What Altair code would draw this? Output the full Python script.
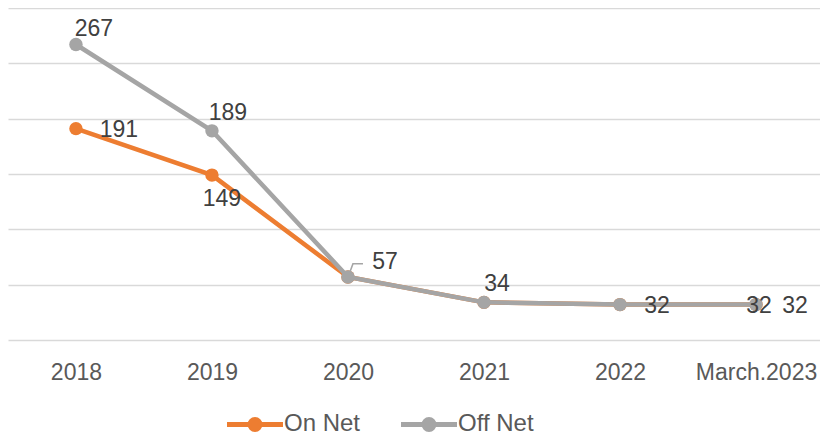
import altair as alt
import pandas as pd

years = ["2018", "2019", "2020", "2021", "2022", "March.2023"]
on_net = [191, 149, 57, 34, 32, 32]
off_net = [267, 189, 57, 34, 32, 32]
series = ["On Net", "Off Net"]
colors = ["#ED7D31", "#A5A5A5"]

rows = []
for s, vals in zip(series, [on_net, off_net]):
    for yr, v in zip(years, vals):
        rows.append({"year": yr, "series": s, "value": v})
df = pd.DataFrame(rows)

FONT = "Liberation Sans"

x_enc = alt.X(
    "year:N", sort=years,
    scale=alt.Scale(padding=0.485, align=0.515),
    axis=alt.Axis(title=None, labelAngle=0, ticks=False, tickSize=0, domain=False,
                  grid=False, labelFontSize=23, labelFont=FONT, labelColor="#595959",
                  labelPadding=21, labelBaseline="top"),
)
y_enc = alt.Y(
    "value:Q",
    scale=alt.Scale(domain=[0, 300], nice=False, zero=True),
    axis=alt.Axis(title=None, labels=False, ticks=False, tickSize=0, domain=False,
                  values=[0, 50, 100, 150, 200, 250, 300],
                  gridColor="#D9D9D9", gridWidth=1.5),
)

# legend symbol: line with a dot, drawn beyond the unit box (unit = 7.5px)
legend_path = ("M-3.73,0L3.73,0"
               "M-0.667,0A0.667,0.667,0,1,0,0.667,0A0.667,0.667,0,1,0,-0.667,0"
               "M-0.333,0A0.333,0.333,0,1,0,0.333,0A0.333,0.333,0,1,0,-0.333,0"
               "M-0.1,0A0.1,0.1,0,1,0,0.1,0A0.1,0.1,0,1,0,-0.1,0")

color_enc = alt.Color(
    "series:N",
    scale=alt.Scale(domain=series, range=colors),
    legend=alt.Legend(title=None, orient="none", direction="horizontal",
                      legendX=235, legendY=404,
                      symbolType=legend_path, symbolSize=225, symbolStrokeWidth=5,
                      labelFont=FONT, labelFontSize=24, labelColor="#595959",
                      labelOffset=17, columnPadding=30),
)

base = alt.Chart(df).encode(x=x_enc, y=y_enc, color=color_enc)

def line_layer(s):
    return base.transform_filter(alt.datum.series == s).mark_line(
        strokeWidth=4.5,
        point=alt.OverlayMarkDef(filled=True, size=180, opacity=1),
    )

text_base = alt.Chart(df).encode(x=alt.X("year:N", sort=years), y="value:Q", text="value:Q")

def label(s, yr, dx, dy):
    return text_base.transform_filter(
        (alt.datum.series == s) & (alt.datum.year == yr)
    ).mark_text(dx=dx, dy=dy, fontSize=23, font=FONT, color="#404040",
                align="center", baseline="middle")

labels = [
    label("Off Net", "2018", 18, -16),
    label("On Net", "2018", 43, 1),
    label("Off Net", "2019", 16, -18),
    label("On Net", "2019", 10, 24),
    label("Off Net", "2020", 37, -15),
    label("Off Net", "2021", 13, -18),
    label("Off Net", "2022", 37, 1),
    label("On Net", "March.2023", 3, 1),
    label("Off Net", "March.2023", 39, 1),
]

# leader line of the "57" label, drawn as a stroked path symbol at the data point
leader = alt.Chart(df).transform_filter(
    (alt.datum.series == "Off Net") & (alt.datum.year == "2020")
).mark_point(
    shape="M0.13,-0.33L0.33,-0.87L1,-0.87", size=900, filled=False,
    stroke="#A5A5A5", strokeWidth=1.5, opacity=1,
).encode(x=alt.X("year:N", sort=years), y="value:Q")

chart = alt.layer(line_layer("On Net"), line_layer("Off Net"), leader, *labels).properties(
    width=812, height=332, padding=0,
).configure(background="white").configure_view(stroke=None, strokeWidth=0)

chart.save("out.html", embed_options={"renderer": "svg", "actions": False})
